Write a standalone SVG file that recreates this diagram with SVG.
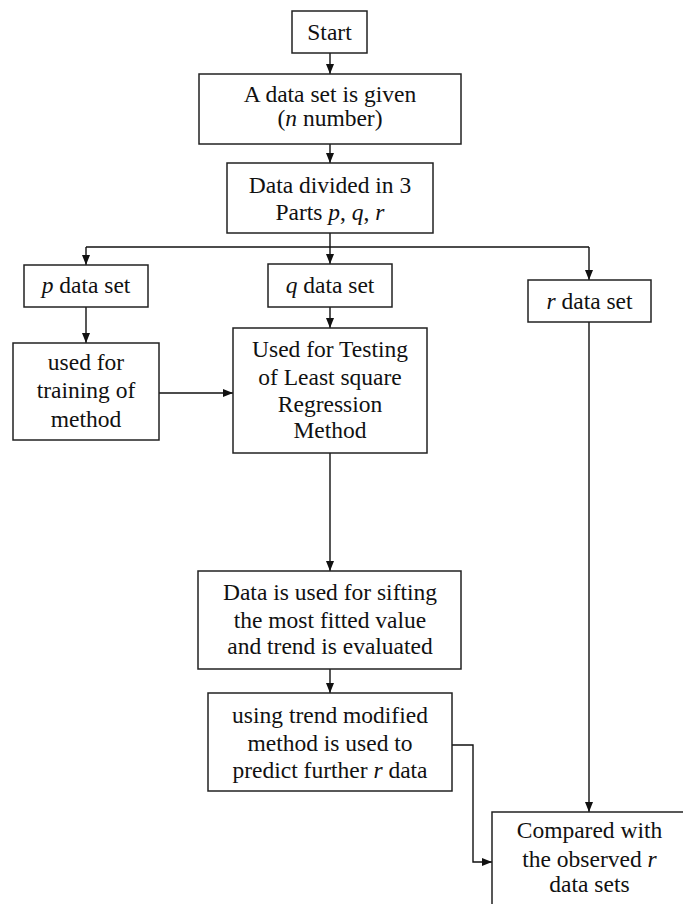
<svg xmlns="http://www.w3.org/2000/svg" width="683" height="904" viewBox="0 0 683 904">
<style>
.box{fill:#fff;stroke:#222;stroke-width:1.5}
.t{font-family:'Liberation Serif','Times New Roman',serif;font-size:23.5px;fill:#111;text-anchor:middle}
.i{font-style:italic}
.c{fill:none;stroke:#111;stroke-width:1.4}
</style>
<defs>
<marker id="ah" markerUnits="userSpaceOnUse" markerWidth="10" markerHeight="10" viewBox="0 0 10 10" refX="10" refY="5" orient="auto">
<path d="M0,1 L10,5 L0,9 z" fill="#111"/>
</marker>
</defs>
<rect width="683" height="904" fill="#fff"/>
<g id="connectors">
<line class="c" x1="330" y1="53" x2="330" y2="74" marker-end="url(#ah)"/>
<line class="c" x1="330" y1="144" x2="330" y2="163" marker-end="url(#ah)"/>
<line class="c" x1="330" y1="233" x2="330" y2="247"/>
<line class="c" x1="86" y1="247" x2="589" y2="247"/>
<line class="c" x1="86" y1="247" x2="86" y2="265" marker-end="url(#ah)"/>
<line class="c" x1="330" y1="247" x2="330" y2="264" marker-end="url(#ah)"/>
<line class="c" x1="589" y1="247" x2="589" y2="280" marker-end="url(#ah)"/>
<line class="c" x1="86" y1="307" x2="86" y2="343" marker-end="url(#ah)"/>
<line class="c" x1="159" y1="393" x2="233" y2="393" marker-end="url(#ah)"/>
<line class="c" x1="330" y1="307" x2="330" y2="328" marker-end="url(#ah)"/>
<line class="c" x1="330" y1="453" x2="330" y2="571" marker-end="url(#ah)"/>
<line class="c" x1="330" y1="669" x2="330" y2="693" marker-end="url(#ah)"/>
<polyline class="c" points="452,745 473,745 473,862 492,862" marker-end="url(#ah)"/>
<line class="c" x1="589" y1="322" x2="589" y2="812" marker-end="url(#ah)"/>
</g>
<g id="start">
<rect class="box" x="292" y="11" width="75" height="42"/>
<text class="t" x="329.5" y="40">Start</text>
</g>
<g id="given">
<rect class="box" x="199" y="74" width="262" height="70"/>
<text class="t" x="330" y="102">A data set is given</text>
<text class="t" x="330" y="126">(<tspan class="i">n</tspan> number)</text>
</g>
<g id="divided">
<rect class="box" x="227" y="163" width="206" height="70"/>
<text class="t" x="330" y="193">Data divided in 3</text>
<text class="t" x="330" y="220">Parts <tspan class="i">p</tspan>, <tspan class="i">q</tspan>, <tspan class="i">r</tspan></text>
</g>
<g id="pset">
<rect class="box" x="24" y="265" width="124" height="42"/>
<text class="t" x="86" y="293"><tspan class="i">p</tspan> data set</text>
</g>
<g id="qset">
<rect class="box" x="268" y="264" width="124" height="43"/>
<text class="t" x="330" y="293"><tspan class="i">q</tspan> data set</text>
</g>
<g id="rset">
<rect class="box" x="528" y="280" width="123" height="42"/>
<text class="t" x="589.5" y="309"><tspan class="i">r</tspan> data set</text>
</g>
<g id="training">
<rect class="box" x="13" y="343" width="146" height="97"/>
<text class="t" x="86" y="370">used for</text>
<text class="t" x="86" y="398">training of</text>
<text class="t" x="86" y="427">method</text>
</g>
<g id="testing">
<rect class="box" x="233" y="328" width="194" height="125"/>
<text class="t" x="330" y="357">Used for Testing</text>
<text class="t" x="330" y="385">of Least square</text>
<text class="t" x="330" y="412">Regression</text>
<text class="t" x="330" y="438">Method</text>
</g>
<g id="sifting">
<rect class="box" x="198" y="571" width="263" height="98"/>
<text class="t" x="330" y="600">Data is used for sifting</text>
<text class="t" x="330" y="628">the most fitted value</text>
<text class="t" x="330" y="654">and trend is evaluated</text>
</g>
<g id="predict">
<rect class="box" x="208" y="693" width="244" height="98"/>
<text class="t" x="330" y="723">using trend modified</text>
<text class="t" x="330" y="751">method is used to</text>
<text class="t" x="330" y="778">predict further <tspan class="i">r</tspan> data</text>
</g>
<g id="compared">
<rect class="box" x="492" y="812" width="196" height="100"/>
<text class="t" x="589.5" y="838">Compared with</text>
<text class="t" x="589.5" y="867">the observed <tspan class="i">r</tspan></text>
<text class="t" x="589.5" y="892">data sets</text>
</g>
</svg>
